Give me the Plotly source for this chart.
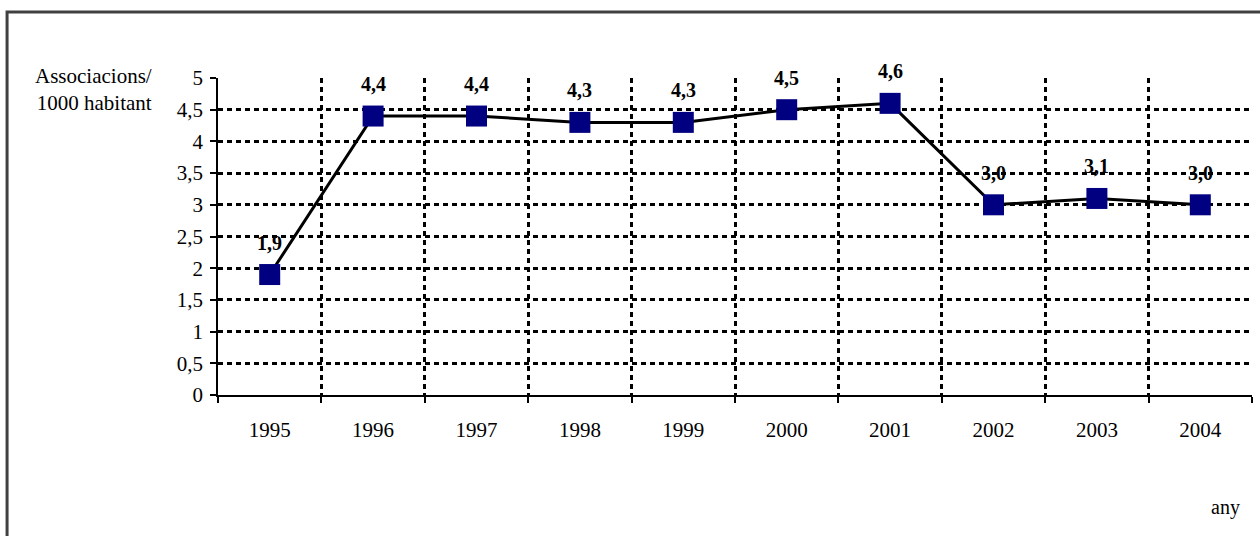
import plotly.graph_objects as go

years = ["1995", "1996", "1997", "1998", "1999", "2000", "2001", "2002", "2003", "2004"]
values = [1.9, 4.4, 4.4, 4.3, 4.3, 4.5, 4.6, 3.0, 3.1, 3.0]
labels = ["1,9", "4,4", "4,4", "4,3", "4,3", "4,5", "4,6", "3,0", "3,1", "3,0"]
y_ticks = [0, 0.5, 1, 1.5, 2, 2.5, 3, 3.5, 4, 4.5, 5]
y_title = "Associacions/<br>1000 habitant"
x_title = "any"

FONT = "Liberation Serif, Times New Roman, serif"
FS = 21

fig = go.Figure()
fig.add_trace(go.Scatter(
    x=years, y=values, mode="lines+markers",
    line=dict(color="black", width=3),
    marker=dict(symbol="square", size=21, color="#000080", line=dict(width=0)),
    showlegend=False, hoverinfo="skip",
))

for i, (y, t) in enumerate(zip(values, labels)):
    fig.add_annotation(x=i, y=y, text="<b>%s</b>" % t, showarrow=False,
                       yshift=32, font=dict(family=FONT, size=FS - 1, color="black"))

fig.add_annotation(xref="paper", yref="paper", x=-0.062, y=0.965, text=y_title,
                   showarrow=False, xanchor="right", yanchor="middle", align="right",
                   font=dict(family=FONT, size=FS, color="black"))
fig.add_annotation(xref="paper", yref="paper", x=0.974, y=-0.356, text=x_title,
                   showarrow=False, xanchor="center", yanchor="middle",
                   font=dict(family=FONT, size=FS - 1, color="black"))

# outer frame
fig.add_shape(type="rect", xref="paper", yref="paper", x0=-0.204, x1=1.1, y0=-0.7, y1=1.208,
              line=dict(color="#404040", width=3), fillcolor="rgba(0,0,0,0)", layer="below")

fig.update_layout(
    width=1260, height=536,
    margin=dict(l=218, r=8, t=78, b=141),
    paper_bgcolor="white", plot_bgcolor="white",
    separators=", ",
    font=dict(family=FONT, size=FS, color="black"),
    xaxis=dict(type="category", tickson="boundaries", range=[-0.5, 9.5],
               showline=True, linecolor="black", linewidth=1.5,
               ticks="outside", ticklen=6, tickwidth=1.5, tickcolor="black",
               showgrid=True, gridcolor="black", gridwidth=2.5, griddash="5px,4px",
               ticklabelstandoff=15, tickfont=dict(family=FONT, size=FS)),
    yaxis=dict(range=[0, 5], tickmode="array", tickvals=y_ticks,
               showline=True, linecolor="black", linewidth=1.5,
               ticks="outside", ticklen=6, tickwidth=1.5, tickcolor="black",
               showgrid=True, gridcolor="black", gridwidth=2.5, griddash="5px,4px",
               zeroline=False, ticklabelstandoff=3, tickfont=dict(family=FONT, size=FS)),
)

fig.write_html("out.html", config={"displayModeBar": False},
               post_script="document.body.style.margin='0';document.body.style.overflow='hidden';")
